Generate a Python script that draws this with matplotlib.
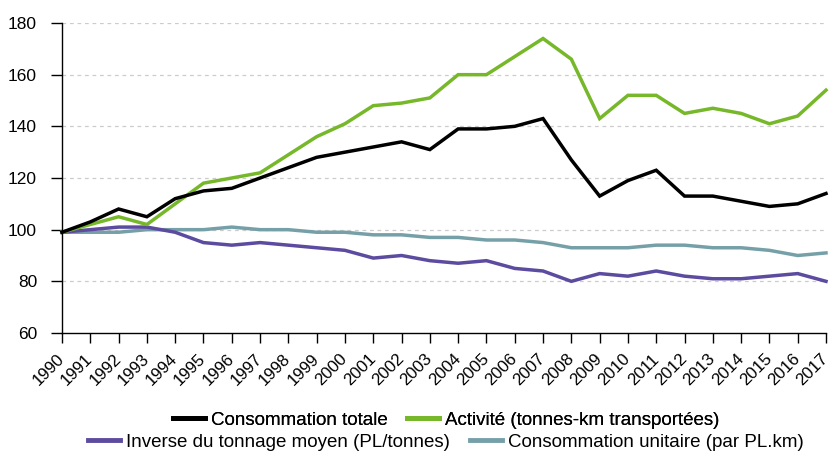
import numpy as np
import matplotlib
matplotlib.use("Agg")
import matplotlib.pyplot as plt
from matplotlib.lines import Line2D

annees = list(range(1990, 2018))

conso_totale = [99, 103, 108, 105, 112, 115, 116, 120, 124, 128, 130, 132, 134, 131,
                139, 139, 140, 143, 127, 113, 119, 123, 113, 113, 111, 109, 110, 114]
activite = [99, 102, 105, 102, 110, 118, 120, 122, 129, 136, 141, 148, 149, 151,
            160, 160, 167, 174, 166, 143, 152, 152, 145, 147, 145, 141, 144, 154]
inverse_tonnage = [99, 100, 101, 101, 99, 95, 94, 95, 94, 93, 92, 89, 90, 88,
                   87, 88, 85, 84, 80, 83, 82, 84, 82, 81, 81, 82, 83, 80]
conso_unitaire = [99, 99, 99, 100, 100, 100, 101, 100, 100, 99, 99, 98, 98, 97,
                  97, 96, 96, 95, 93, 93, 93, 94, 94, 93, 93, 92, 90, 91]

series = [
    ("Consommation totale", conso_totale, "#000000"),
    ("Activité (tonnes-km transportées)", activite, "#76b82a"),
    ("Inverse du tonnage moyen (PL/tonnes)", inverse_tonnage, "#5c4b9f"),
    ("Consommation unitaire (par PL.km)", conso_unitaire, "#76a0a8"),
]

plt.rcParams['font.family'] = ['Liberation Sans', 'DejaVu Sans']

fig = plt.figure(figsize=(8.3, 4.51), dpi=100)
ax = fig.add_axes([62 / 830, 1 - 333 / 451, 764 / 830, 310 / 451])

# ordre de tracé : les courbes du bas d'abord
for nom, vals, col in [series[3], series[2], series[1], series[0]]:
    ax.plot(annees, vals, color=col, lw=2.5, solid_joinstyle='miter', clip_on=False)

ax.set_xlim(1990, 2017)
ax.set_ylim(60, 180)
ax.set_yticks(range(60, 181, 20))
ax.set_xticks(annees)
ax.set_xticklabels([str(a) for a in annees], rotation=45, ha='right',
                   va='center', rotation_mode='anchor')
for y in range(80, 181, 20):
    ax.axhline(y, color='#cccccc', lw=0.9, ls=(0, (3, 3)), zorder=0)

for s in ['top', 'right']:
    ax.spines[s].set_visible(False)
ax.spines['left'].set_linewidth(1.0)
ax.spines['bottom'].set_linewidth(1.0)
ax.tick_params(axis='y', length=8, width=1, labelsize=12.5, pad=10)
ax.tick_params(axis='x', length=7, width=1, labelsize=12.2, pad=10)

handles = [Line2D([0], [0], color=c, lw=3.5) for _, _, c in series]
labels = [n for n, _, _ in series]
opts = dict(ncol=2, loc='center', frameon=False, fontsize=13.5,
            handlelength=1.7, handletextpad=0.32, columnspacing=1.05, borderpad=0)
cx = 446 / 830
leg1 = fig.legend(handles[:2], labels[:2], bbox_to_anchor=(cx, 1 - 420 / 451), **opts)
leg2 = fig.legend(handles[2:], labels[2:], bbox_to_anchor=(cx, 1 - 442 / 451), **opts)
fig.add_artist(leg1)

fig.savefig("out.png", dpi=100)
